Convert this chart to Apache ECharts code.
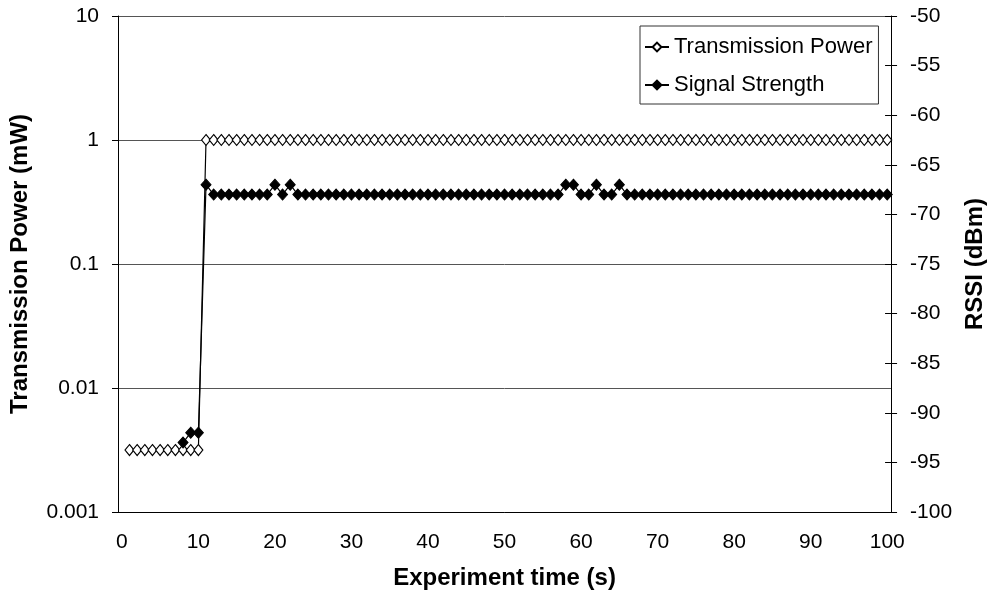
<!DOCTYPE html>
<html>
<head>
<meta charset="utf-8">
<script src="https://cdn.jsdelivr.net/npm/echarts@6/dist/echarts.min.js"></script>
<style>
  html, body { margin: 0; padding: 0; background: #fff; }
  #chart { width: 995px; height: 596px; }
</style>
</head>
<body>
<div id="chart"></div>
<script>
// Experiment time categories (s): 0 .. 100
const timeCategories = [];
for (let t = 0; t <= 100; t++) timeCategories.push(String(t));

// Transmission power (mW), index = time (s)
const transmissionPower = [
  null,
  0.00316, 0.00316, 0.00316, 0.00316, 0.00316, 0.00316, 0.00316, 0.00316, 0.00316, 0.00316,
  1, 1, 1, 1, 1, 1, 1, 1, 1, 1,
  1, 1, 1, 1, 1, 1, 1, 1, 1, 1,
  1, 1, 1, 1, 1, 1, 1, 1, 1, 1,
  1, 1, 1, 1, 1, 1, 1, 1, 1, 1,
  1, 1, 1, 1, 1, 1, 1, 1, 1, 1,
  1, 1, 1, 1, 1, 1, 1, 1, 1, 1,
  1, 1, 1, 1, 1, 1, 1, 1, 1, 1,
  1, 1, 1, 1, 1, 1, 1, 1, 1, 1,
  1, 1, 1, 1, 1, 1, 1, 1, 1, 1
];

// Signal strength RSSI (dBm), index = time (s)
const signalStrength = [
  null,
  null, null, null, null, null, null, null, -93, -92, -92,
  -67, -68, -68, -68, -68, -68, -68, -68, -68, -67,
  -68, -67, -68, -68, -68, -68, -68, -68, -68, -68,
  -68, -68, -68, -68, -68, -68, -68, -68, -68, -68,
  -68, -68, -68, -68, -68, -68, -68, -68, -68, -68,
  -68, -68, -68, -68, -68, -68, -68, -67, -67, -68,
  -68, -67, -68, -68, -67, -68, -68, -68, -68, -68,
  -68, -68, -68, -68, -68, -68, -68, -68, -68, -68,
  -68, -68, -68, -68, -68, -68, -68, -68, -68, -68,
  -68, -68, -68, -68, -68, -68, -68, -68, -68, -68
];

const seriesNames = ['Transmission Power', 'Signal Strength'];
const axisTitles = { x: 'Experiment time (s)', left: 'Transmission Power (mW)', right: 'RSSI (dBm)' };

const FONT = 'Liberation Sans, Arial, sans-serif';
const chart = echarts.init(document.getElementById('chart'), null, { renderer: 'canvas' });

chart.setOption({
  animation: false,
  backgroundColor: '#fff',
  textStyle: { fontFamily: FONT, color: '#000' },
  grid: { left: 118, right: 102, top: 16, bottom: 84, containLabel: false },
  legend: {
    orient: 'vertical',
    left: 640,
    top: 26,
    data: seriesNames,
    backgroundColor: '#fff',
    borderColor: '#333',
    borderWidth: 1,
    borderRadius: 0,
    padding: [10, 6, 8, 4],
    itemGap: 16,
    itemWidth: 24,
    itemHeight: 11,
    textStyle: { fontFamily: FONT, fontSize: 22, color: '#000', padding: [0, 0, 0, 0] }
  },
  xAxis: {
    type: 'category',
    data: timeCategories,
    boundaryGap: true,
    name: axisTitles.x,
    nameLocation: 'middle',
    nameGap: 54,
    nameTextStyle: { fontFamily: FONT, fontSize: 24, fontWeight: 'bold', color: '#000' },
    axisLine: { lineStyle: { color: '#000', width: 1 } },
    axisTick: { interval: 4, length: 6, lineStyle: { color: '#000' } },
    axisLabel: { interval: 9, margin: 20, fontSize: 21, color: '#000', fontFamily: FONT },
    splitLine: { show: false }
  },
  yAxis: [
    {
      type: 'log',
      logBase: 10,
      min: 0.001,
      max: 10,
      position: 'left',
      name: axisTitles.left,
      nameLocation: 'middle',
      nameGap: 86,
      nameRotate: 90,
      nameTextStyle: { fontFamily: FONT, fontSize: 24, fontWeight: 'bold', color: '#000' },
      axisLine: { show: true, lineStyle: { color: '#000', width: 1 } },
      axisTick: { show: true, length: 6, lineStyle: { color: '#000' } },
      axisLabel: {
        margin: 19, fontSize: 21, color: '#000', fontFamily: FONT,
        formatter: function (v) { return String(+v.toPrecision(6)); }
      },
      splitLine: { show: true, lineStyle: { color: '#555', width: 1 } }
    },
    {
      type: 'value',
      min: -100,
      max: -50,
      interval: 5,
      position: 'right',
      name: axisTitles.right,
      nameLocation: 'middle',
      nameGap: 70,
      nameRotate: 90,
      nameTextStyle: { fontFamily: FONT, fontSize: 24, fontWeight: 'bold', color: '#000' },
      axisLine: { show: true, lineStyle: { color: '#000', width: 1 } },
      axisTick: { show: true, length: 6, lineStyle: { color: '#000' } },
      axisLabel: { margin: 19, fontSize: 21, color: '#000', fontFamily: FONT },
      splitLine: { show: false }
    },
    {
      type: 'value',
      min: -100,
      max: -50,
      interval: 5,
      position: 'right',
      axisLine: { show: false },
      axisTick: { show: true, inside: true, length: 6, lineStyle: { color: '#000' } },
      axisLabel: { show: false },
      splitLine: { show: false }
    }
  ],
  series: [
    {
      name: seriesNames[0],
      type: 'line',
      xAxisIndex: 0,
      yAxisIndex: 0,
      data: transmissionPower,
      connectNulls: false,
      symbol: 'diamond',
      symbolSize: [9, 11],
      showAllSymbol: true,
      lineStyle: { color: '#000', width: 1.2 },
      itemStyle: { color: '#fff', borderColor: '#000', borderWidth: 1.1 },
      emphasis: { disabled: true },
      z: 2
    },
    {
      name: seriesNames[1],
      type: 'line',
      xAxisIndex: 0,
      yAxisIndex: 1,
      data: signalStrength,
      connectNulls: false,
      symbol: 'diamond',
      symbolSize: [10, 11],
      showAllSymbol: true,
      lineStyle: { color: '#000', width: 1.2 },
      itemStyle: { color: '#000', borderColor: '#000', borderWidth: 1 },
      emphasis: { disabled: true },
      z: 3
    }
  ]
});
</script>
</body>
</html>
